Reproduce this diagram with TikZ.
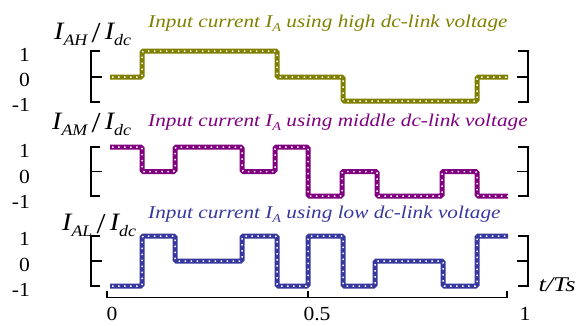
\documentclass[tikz,border=0pt]{standalone}
\usepackage{fontspec}
\setmainfont{Liberation Serif}
\newfontfamily\ttlfont[FakeStretch=1.18]{Liberation Serif}
\newfontfamily\labfont[FakeStretch=1.12]{Liberation Serif}
\newfontfamily\tfont[FakeStretch=1.25]{Liberation Serif}
\newfontfamily\numfont[FakeStretch=1.08]{Liberation Serif}
\definecolor{wolive}{RGB}{128,128,0}
\definecolor{wpurple}{RGB}{128,0,128}
\definecolor{wblue}{RGB}{55,55,160}
\tikzset{
  wave/.style={draw=#1, line width=5pt, rounded corners=1.5pt, line cap=butt,
    postaction={draw=white, line width=1.5pt, dash pattern=on 1.5pt off 4.5pt, dash phase=-2pt}},
  brk/.style={draw=black, line width=1.4pt},
  axisline/.style={draw=black, line width=1.4pt},
  numlbl/.style={font=\numfont\fontsize{20}{22}\selectfont, inner sep=0pt, anchor=east},
  ylab/.style={font=\labfont\fontsize{25}{27}\selectfont\itshape, inner sep=0pt, anchor=base west},
  ttl/.style={font=\ttlfont\fontsize{18}{20}\selectfont\itshape, inner sep=0pt, anchor=base west, text=#1},
  ticklbl/.style={font=\numfont\fontsize{20}{22}\selectfont, inner sep=0pt}
}
\newcommand{\sbs}[1]{\raisebox{-0.25em}{\fontsize{16}{18}\selectfont #1}}
\newcommand{\tsbs}[1]{\raisebox{-0.25em}{\fontsize{12}{14}\selectfont #1}}
\newcommand{\slsh}{\,{\upshape\fontsize{29}{29}\selectfont\raisebox{-0.12em}{/}}\,}
\begin{document}
\begin{tikzpicture}[x=1pt,y=-1pt]
\useasboundingbox (0,0) rectangle (585,325);

% ---------- top panel ----------
\node[ylab] (yh) at (54,39) {I\sbs{AH}\slsh I\sbs{dc}};
\node[ttl=wolive] (th) at (148,27) {Input current I\tsbs{A} using high dc-link voltage};
\node[numlbl] (h1) at (30,55) {1};
\node[numlbl] (h0) at (30,80) {0};
\node[numlbl] (hm) at (30,105) {-1};
\draw[brk] (100,51) -- (91,51) -- (91,102) -- (100,102);
\draw[brk] (91,77) -- (102,77);
\draw[brk] (518,51) -- (528,51) -- (528,102) -- (518,102);
\draw[brk] (517,77) -- (528,77);
\draw[wave=wolive] (110,77) -- (142,77) -- (142,51) -- (277,51) -- (277,77) -- (343,77) -- (343,101) -- (477,101) -- (477,77) -- (508,77);

% ---------- middle panel ----------
\node[ylab] (ym) at (52,129) {I\sbs{AM}\slsh I\sbs{dc}};
\node[ttl=wpurple] (tm) at (148,126) {Input current I\tsbs{A} using middle dc-link voltage};
\node[numlbl] (m1) at (30,151) {1};
\node[numlbl] (m0) at (30,177) {0};
\node[numlbl] (mm) at (30,202) {-1};
\draw[brk] (100,147) -- (91,147) -- (91,196) -- (100,196);
\draw[brk] (91,171.5) -- (102,171.5);
\draw[brk] (518,147) -- (528,147) -- (528,196) -- (518,196);
\draw[brk] (517,171.5) -- (528,171.5);
\draw[wave=wpurple] (110,147) -- (142,147) -- (142,171.5) -- (175,171.5) -- (175,147) -- (242,147) -- (242,171.5) -- (275,171.5) -- (275,147) -- (308,147) -- (308,196) -- (342,196) -- (342,171.5) -- (377,171.5) -- (377,196) -- (442,196) -- (442,171.5) -- (477,171.5) -- (477,196) -- (508,196);

% ---------- bottom panel ----------
\node[ylab] (yl) at (62,230) {I\sbs{AL}\slsh I\sbs{dc}};
\node[ttl=wblue] (tl) at (148,218) {Input current I\tsbs{A} using low dc-link voltage};
\node[numlbl] (l1) at (30,239) {1};
\node[numlbl] (l0) at (30,265) {0};
\node[numlbl] (lm) at (30,290) {-1};
\draw[brk] (100,236) -- (91,236) -- (91,286) -- (100,286);
\draw[brk] (91,261) -- (102,261);
\draw[brk] (518,236) -- (528,236) -- (528,286) -- (518,286);
\draw[brk] (517,261) -- (528,261);
\draw[wave=wblue] (110,286) -- (142,286) -- (142,236) -- (175,236) -- (175,261) -- (242,261) -- (242,236) -- (277,236) -- (277,286) -- (308,286) -- (308,236) -- (343,236) -- (343,286) -- (375,286) -- (375,261) -- (443,261) -- (443,286) -- (477,286) -- (477,236) -- (508,236);

% ---------- time axis ----------
\draw[axisline] (107,291) -- (107,297.5) -- (507,297.5) -- (507,291);
\draw[axisline] (308,297.5) -- (308,291);
\node[ticklbl] (x0) at (112,314) {0};
\node[ticklbl] (x5) at (317,314) {0.5};
\node[ticklbl] (x1) at (525,314) {1};
\node[font=\tfont\fontsize{21}{23}\selectfont\itshape, inner sep=0pt] (tt) at (557,285) {t/Ts};
\end{tikzpicture}
\end{document}
